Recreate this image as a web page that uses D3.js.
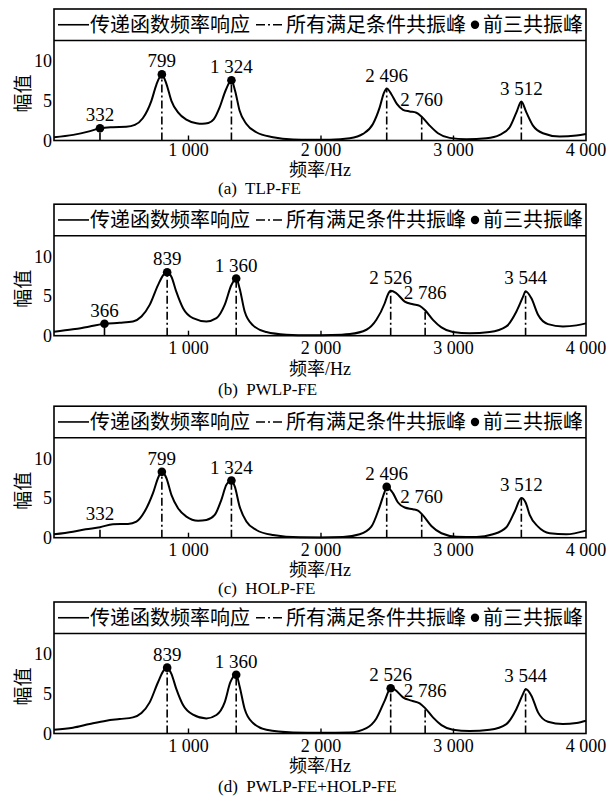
<!DOCTYPE html>
<html>
<head>
<meta charset="utf-8">
<script src="https://cdn.jsdelivr.net/npm/d3@7"></script>
<style>
  body { margin: 0; background: #fff; }
  svg { display: block; }
</style>
</head>
<body>
<svg id="chart" width="612" height="801"></svg>
<script>
// ---------- data ----------
const freqTicks = [1000, 2000, 3000, 4000];
const ampTicks = [0, 5, 10];
const legendLabels = ["传递函数频率响应", "所有满足条件共振峰", "前三共振峰"];
const captions = ["(a)  TLP-FE", "(b)  PWLP-FE", "(c)  HOLP-FE", "(d)  PWLP-FE+HOLP-FE"];
const xTitle = "频率/Hz";
const yTitle = "幅值";

// transfer-function magnitude, [frequency Hz, amplitude]
const tlpResponse = [[-15,0.42],[130,0.71],[250,1.15],[332,1.54],[430,1.67],[530,1.72],[595,1.96],[655,2.8],[720,5.0],[758,7.05],[799,8.33],[835,7.05],[871,5.0],[921,3.54],[984,2.63],[1060,2.17],[1105,2.1],[1150,2.2],[1190,2.65],[1235,4.17],[1280,6.3],[1324,7.6],[1352,6.25],[1386,3.75],[1437,2.08],[1512,1.04],[1638,0.42],[1790,0.12],[1915,0.08],[2066,0.1],[2217,0.29],[2317,0.83],[2392,2.08],[2443,4.17],[2475,6.0],[2496,6.55],[2531,5.83],[2574,4.58],[2619,3.87],[2669,3.66],[2720,3.5],[2760,3.0],[2820,1.88],[2883,0.92],[2971,0.33],[3097,0.17],[3248,0.29],[3349,0.71],[3424,1.67],[3475,3.54],[3512,4.9],[3550,3.54],[3600,1.88],[3675,0.92],[3801,0.5],[3928,0.63],[4000,0.83]];
const pwlpResponse = [[-15,0.5],[128,0.8],[254,1.17],[366,1.5],[481,1.63],[581,1.8],[645,2.42],[707,3.88],[770,6.38],[813,7.71],[839,8.0],[871,7.43],[908,5.55],[959,3.46],[1034,2.21],[1135,1.8],[1211,2.21],[1273,3.88],[1324,6.38],[1360,7.2],[1386,5.96],[1424,3.05],[1487,1.3],[1588,0.46],[1739,0.13],[1915,0.05],[2080,0.08],[2217,0.21],[2343,0.75],[2418,2.0],[2481,4.09],[2505,5.2],[2526,5.65],[2565,5.4],[2632,4.3],[2694,3.96],[2745,3.75],[2786,3.2],[2845,2.0],[2909,1.05],[2996,0.46],[3122,0.3],[3273,0.46],[3399,1.17],[3475,3.05],[3525,4.92],[3544,5.6],[3588,4.71],[3638,2.63],[3713,1.46],[3826,1.17],[3928,1.3],[4000,1.55]];
const holpResponse = [[-15,0.43],[128,0.76],[224,1.06],[332,1.32],[430,1.7],[543,1.73],[607,2.03],[669,3.3],[732,5.62],[775,7.72],[799,8.3],[833,7.52],[871,5.4],[921,3.72],[984,2.66],[1072,2.15],[1135,2.24],[1198,2.87],[1248,4.77],[1286,6.67],[1324,7.2],[1349,6.46],[1386,3.92],[1437,2.03],[1512,0.97],[1638,0.34],[1839,0.05],[2000,0.04],[2166,0.09],[2292,0.43],[2380,1.39],[2443,3.92],[2481,5.82],[2496,6.4],[2543,5.62],[2581,4.43],[2632,3.8],[2694,3.59],[2732,3.42],[2760,3.0],[2833,1.48],[2909,0.56],[3022,0.13],[3173,0.09],[3298,0.43],[3399,1.32],[3462,3.3],[3512,5.0],[3545,4.4],[3575,2.87],[3638,1.39],[3726,0.56],[3852,0.43],[4000,0.89]];
const comboResponse = [[-15,0.47],[128,0.72],[254,1.19],[380,1.61],[481,1.82],[581,2.03],[645,2.58],[707,3.92],[770,6.46],[813,7.94],[839,8.3],[871,7.52],[908,5.62],[959,3.59],[1034,2.37],[1135,1.9],[1211,2.33],[1273,3.92],[1316,6.46],[1360,7.4],[1385,6.0],[1424,3.09],[1487,1.32],[1588,0.47],[1789,0.13],[2000,0.08],[2217,0.13],[2343,0.68],[2418,1.9],[2481,4.14],[2526,5.7],[2557,5.53],[2619,4.56],[2682,4.14],[2745,3.8],[2786,3.2],[2845,2.03],[2909,1.06],[2996,0.47],[3122,0.3],[3273,0.47],[3399,1.19],[3475,3.09],[3525,4.99],[3544,5.6],[3588,4.77],[3638,2.66],[3713,1.48],[3826,1.19],[3928,1.32],[4000,1.61]];

// resonance peaks satisfying all conditions
const tlpPeakFreq = [332, 799, 1324, 2496, 2760, 3512];
const tlpPeakAmp = [1.54, 8.33, 7.6, 6.55, 3.0, 4.9];
const pwlpPeakFreq = [366, 839, 1360, 2526, 2786, 3544];
const pwlpPeakAmp = [1.5, 8.0, 7.2, 5.65, 3.2, 5.6];
const holpPeakFreq = [332, 799, 1324, 2496, 2760, 3512];
const holpPeakAmp = [1.32, 8.3, 7.2, 6.4, 3.0, 5.0];
const comboPeakFreq = [839, 1360, 2526, 2786, 3544];
const comboPeakAmp = [8.3, 7.4, 5.7, 3.2, 5.6];

// first three common resonance peaks
const tlpTopThree = [332, 799, 1324];
const pwlpTopThree = [366, 839, 1360];
const holpTopThree = [799, 1324, 2496];
const comboTopThree = [839, 1360, 2526];

const panels = [
  { response: tlpResponse, peakFreq: tlpPeakFreq, peakAmp: tlpPeakAmp, top: tlpTopThree, caption: captions[0] },
  { response: pwlpResponse, peakFreq: pwlpPeakFreq, peakAmp: pwlpPeakAmp, top: pwlpTopThree, caption: captions[1] },
  { response: holpResponse, peakFreq: holpPeakFreq, peakAmp: holpPeakAmp, top: holpTopThree, caption: captions[2] },
  { response: comboResponse, peakFreq: comboPeakFreq, peakAmp: comboPeakAmp, top: comboTopThree, caption: captions[3] }
];

// ---------- layout ----------
const axisY = [140.5, 335.7, 537.7, 733.5];
const plotH = 100, legendH = 31.5;
const left = 54, right = 586;
const tickLabelY = [150, 348, 550, 746];
const xTitleY = [170, 369, 570, 766];
const captionY = [188, 389, 588, 786];
const captionX = 218;

const serif = "Liberation Serif, Times New Roman, Times, DejaVu Serif, serif";
const cjk = "Liberation Serif, Times New Roman, Noto Sans CJK SC, serif";
const dashDot = "8,3,2,3";

const fmt = d3.formatLocale({ decimal: ".", thousands: " ", grouping: [3], currency: ["", ""] }).format(",");

const x = d3.scaleLinear().domain([-15, 4000]).range([left, right]);
const svg = d3.select("#chart");

function ampAt(resp, f) {
  for (let i = 1; i < resp.length; i++) {
    if (resp[i][0] >= f) {
      const [f0, a0] = resp[i - 1], [f1, a1] = resp[i];
      return a0 + (a1 - a0) * (f - f0) / (f1 - f0);
    }
  }
  return resp[resp.length - 1][1];
}

panels.forEach((p, i) => {
  const base = axisY[i];
  const plotTop = base - plotH;
  const frameTop = plotTop - legendH;
  const y = d3.scaleLinear().domain([0, 12.6]).range([base, plotTop]);
  const g = svg.append("g");

  // frame and legend separator
  g.append("rect")
    .attr("x", left).attr("y", frameTop)
    .attr("width", right - left).attr("height", base - frameTop)
    .attr("fill", "none").attr("stroke", "#000").attr("stroke-width", 1.6);
  g.append("line")
    .attr("x1", left).attr("x2", right).attr("y1", plotTop).attr("y2", plotTop)
    .attr("stroke", "#000").attr("stroke-width", 1.4);

  // legend
  const ly = frameTop + legendH / 2;
  const lg = g.append("g");
  let cx = 58;
  lg.append("line").attr("x1", cx).attr("x2", cx + 31).attr("y1", ly).attr("y2", ly)
    .attr("stroke", "#000").attr("stroke-width", 1.6);
  cx += 32;
  const t1 = lg.append("text").attr("x", cx).attr("y", ly).attr("dy", "0.36em")
    .style("font-family", cjk).attr("font-size", 20).text(legendLabels[0]);
  cx += t1.node().getComputedTextLength() + 6;
  lg.append("line").attr("x1", cx).attr("x2", cx + 28).attr("y1", ly).attr("y2", ly)
    .attr("stroke", "#000").attr("stroke-width", 1.6).attr("stroke-dasharray", "9,3,2,3");
  cx += 30;
  const t2 = lg.append("text").attr("x", cx).attr("y", ly).attr("dy", "0.36em")
    .style("font-family", cjk).attr("font-size", 20).text(legendLabels[1]);
  cx += t2.node().getComputedTextLength() + 9;
  lg.append("circle").attr("cx", cx).attr("cy", ly).attr("r", 4.2).attr("fill", "#000");
  cx += 8;
  lg.append("text").attr("x", cx).attr("y", ly).attr("dy", "0.36em")
    .style("font-family", cjk).attr("font-size", 20).text(legendLabels[2]);

  // x ticks (inward) and labels
  g.selectAll(".xt").data(freqTicks.filter(d => d < 4000)).join("line")
    .attr("x1", d => x(d)).attr("x2", d => x(d))
    .attr("y1", base).attr("y2", base - 5)
    .attr("stroke", "#000").attr("stroke-width", 1.4);
  g.selectAll(".xl").data(freqTicks).join("text")
    .attr("x", d => x(d)).attr("y", tickLabelY[i]).attr("dy", "0.35em")
    .attr("text-anchor", "middle").style("font-family", serif).attr("font-size", 18)
    .text(d => fmt(d));

  // y tick labels
  g.selectAll(".yl").data(ampTicks).join("text")
    .attr("x", left - 2).attr("y", d => y(d)).attr("dy", "0.35em")
    .attr("text-anchor", "end").style("font-family", serif).attr("font-size", 18)
    .text(d => d);

  // axis titles and caption
  g.append("text")
    .attr("transform", `translate(23,${(plotTop + base) / 2 + 3}) rotate(-90)`)
    .attr("text-anchor", "middle").attr("dy", "0.35em")
    .style("font-family", cjk).attr("font-size", 19).text(yTitle);
  g.append("text").attr("x", (left + right) / 2).attr("y", xTitleY[i]).attr("dy", "0.35em")
    .attr("text-anchor", "middle").style("font-family", cjk).attr("font-size", 18).text(xTitle);
  g.append("text").attr("x", captionX).attr("y", captionY[i]).attr("dy", "0.35em")
    .style("font-family", serif).attr("font-size", 17)
    .style("white-space", "pre").text(p.caption);

  // resonance lines
  const peaks = p.peakFreq.map((f, k) => ({ f, a: p.peakAmp[k] }));
  g.selectAll(".pk").data(peaks).join("line")
    .attr("x1", d => x(d.f)).attr("x2", d => x(d.f))
    .attr("y1", base).attr("y2", d => y(d.a))
    .attr("stroke", "#000").attr("stroke-width", 1.6)
    .attr("stroke-dasharray", dashDot);

  // response curve
  const line = d3.line().x(d => x(d[0])).y(d => y(d[1])).curve(d3.curveMonotoneX);
  g.append("path").datum(p.response).attr("d", line)
    .attr("fill", "none").attr("stroke", "#000").attr("stroke-width", 2);

  // first three peaks
  g.selectAll(".mk").data(peaks.filter(d => p.top.includes(d.f))).join("circle")
    .attr("cx", d => x(d.f)).attr("cy", d => y(d.a)).attr("r", 4.3).attr("fill", "#000");

  // peak frequency labels (lifted a bit more when sitting on a shoulder)
  g.selectAll(".pl").data(peaks).join("text")
    .attr("x", d => x(d.f))
    .attr("y", d => y(d.a) - (ampAt(p.response, d.f - 40) > d.a ? 11 : 7))
    .attr("text-anchor", "middle").style("font-family", serif).attr("font-size", 19)
    .attr("fill", "#000").text(d => fmt(d.f));
});
</script>
</body>
</html>
